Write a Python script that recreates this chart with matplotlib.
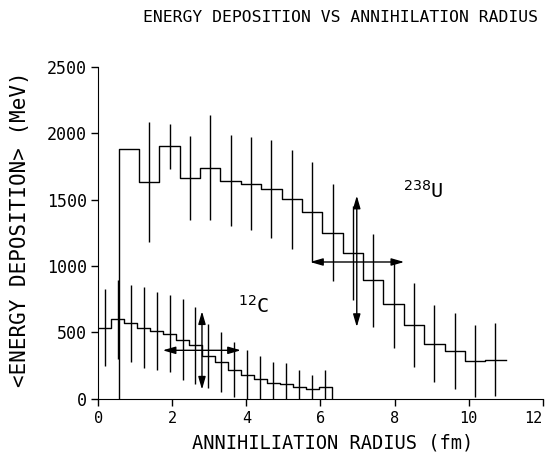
import numpy as np
import matplotlib
matplotlib.use("Agg")
import matplotlib.pyplot as plt

plt.rcParams['font.family'] = ['DejaVu Sans Mono', 'DejaVu Sans']
plt.rcParams['mathtext.fontset'] = 'dejavusans'

# 238U histogram, bins of 0.55 fm from 0.55 to 11.0 fm
u_width = 0.55
u_start = 0.55
u_energy = [1879, 1633, 1902, 1663, 1741, 1641, 1621, 1580, 1503, 1407,
            1251, 1098, 892, 711, 553, 415, 357, 284, 294]
u_err = [0, 450, 170, 320, 395, 343, 350, 370, 372, 375,
         365, 358, 352, 333, 318, 290, 288, 270, 275]

# 12C histogram, bins of 0.35 fm from 0 to 6.3 fm
c_width = 0.35
c_start = 0.0
c_energy = [533, 598, 568, 535, 508, 490, 445, 402, 319, 276,
            219, 176, 146, 118, 111, 88, 70, 85]
c_err = [290, 300, 290, 305, 295, 290, 305, 290, 241, 223,
         208, 188, 173, 158, 158, 126, 111, 134]

# mean radius / mean energy arrows (x range, y, x, y range)
u_harrow = (5.72, 8.26, 1030)
u_varrow = (6.98, 540, 1530)
c_harrow = (1.74, 3.85, 364)
c_varrow = (2.80, 68, 658)

fig = plt.figure(figsize=(5.5, 4.55), dpi=100)
ax = fig.add_axes([0.1787, 0.124, 0.808, 0.7286])


def steps(start, width, vals):
    edges = start + width * np.arange(len(vals) + 1)
    xs = np.repeat(edges, 2)[1:-1]
    ys = np.repeat(vals, 2)
    centers = edges[:-1] + width / 2
    return xs, ys, centers, edges


lw = 1.0
xs, ys, cu, eu = steps(u_start, u_width, u_energy)
ax.plot(np.r_[eu[0], xs], np.r_[0, ys], color='black', lw=lw)
ax.errorbar(cu, u_energy, yerr=u_err, fmt='none', ecolor='black',
            elinewidth=lw, capsize=0)

xs, ys, cc, ec = steps(c_start, c_width, c_energy)
ax.plot(np.r_[xs, ec[-1]], np.r_[ys, 0], color='black', lw=lw)
ax.errorbar(cc, c_energy, yerr=c_err, fmt='none', ecolor='black',
            elinewidth=lw, capsize=0)

astyle = dict(arrowstyle='<|-|>,head_length=0.38,head_width=0.11',
              color='black', lw=lw, mutation_scale=20, shrinkA=0, shrinkB=0)
for x0, x1, y in (u_harrow, c_harrow):
    ax.annotate('', xy=(x1, y), xytext=(x0, y), arrowprops=astyle)
for x, y0, y1 in (u_varrow, c_varrow):
    ax.annotate('', xy=(x, y1), xytext=(x, y0), arrowprops=astyle)

ax.text(8.24, 1517, '$^{238}$U', fontsize=14.5, ha='left', va='baseline')
ax.text(3.78, 644, '$^{12}$C', fontsize=14.5, ha='left', va='baseline')

ax.set_xlim(0, 12)
ax.set_ylim(0, 2500)
ax.set_xticks(np.arange(0, 13, 2))
ax.set_yticks(np.arange(0, 2501, 500))
ax.spines['top'].set_visible(False)
ax.spines['right'].set_visible(False)
ax.tick_params(axis='both', direction='out', length=5, width=lw)
ax.tick_params(axis='x', pad=4, labelsize=11)
ax.tick_params(axis='y', pad=3, labelsize=12)
ax.get_xticklabels()[-1].set_horizontalalignment('right')

fig.text(0.619, 0.962, 'ENERGY DEPOSITION VS ANNIHILATION RADIUS',
         ha='center', va='center', fontsize=11.8)
fig.text(0.604, 0.027, 'ANNIHILIATION RADIUS (fm)',
         ha='center', va='center', fontsize=13.5)
fig.text(0.036, 0.497, '<ENERGY DEPOSITION> (MeV)', rotation=90,
         ha='center', va='center', fontsize=15)

fig.savefig('out.png', dpi=100)
